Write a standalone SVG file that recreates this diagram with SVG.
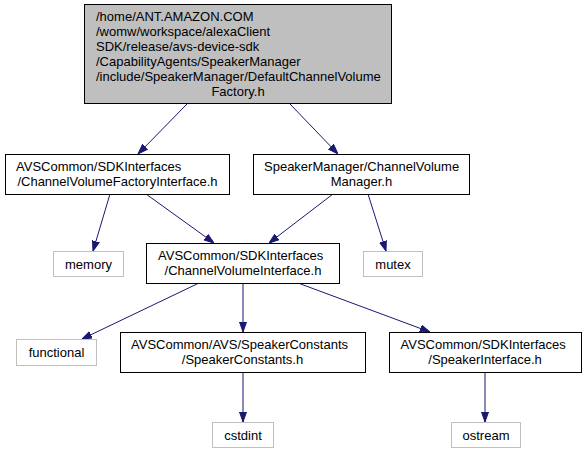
<svg xmlns="http://www.w3.org/2000/svg" width="587" height="453" viewBox="0 0 587 453">
<style>
  text { font-family: "Liberation Sans", Arial, Helvetica, sans-serif; font-size: 13px; fill: #000; }
  .c { text-anchor: middle; }
  .box { fill: #ffffff; stroke: #000000; stroke-width: 1; }
  .root { fill: #bfbfbf; stroke: #000000; stroke-width: 1; }
  .leaf { fill: #ffffff; stroke: #bfbfbf; stroke-width: 1; }
  .edge { fill: none; stroke: #191970; stroke-width: 1; marker-end: url(#ah); }
</style>
<defs>
  <marker id="ah" markerWidth="10" markerHeight="8" refX="10" refY="4" orient="auto" markerUnits="userSpaceOnUse">
    <path d="M0,0.5 L10,4 L0,7.5 z" fill="#191970" stroke="#191970" stroke-width="1"/>
  </marker>
</defs>
<rect width="587" height="453" fill="#ffffff"/>
<g id="edges">
  <line class="edge" x1="187" y1="104" x2="138" y2="154"/>
  <line class="edge" x1="290" y1="104" x2="338" y2="154"/>
  <line class="edge" x1="110" y1="194" x2="93" y2="251"/>
  <line class="edge" x1="146" y1="194" x2="214" y2="243"/>
  <line class="edge" x1="333" y1="194" x2="269" y2="243"/>
  <line class="edge" x1="368" y1="194" x2="386" y2="251"/>
  <line class="edge" x1="199" y1="283" x2="82" y2="339"/>
  <line class="edge" x1="243" y1="283" x2="243" y2="332"/>
  <line class="edge" x1="298" y1="283" x2="430" y2="332"/>
  <line class="edge" x1="243" y1="372" x2="243" y2="422"/>
  <line class="edge" x1="485" y1="372" x2="485" y2="422"/>
</g>
<g id="node_root">
  <rect class="root" x="84.5" y="4.5" width="307" height="99"/>
  <text x="96" y="21">/home/ANT.AMAZON.COM</text>
  <text x="96" y="36">/womw/workspace/alexaClient</text>
  <text x="96" y="51">SDK/release/avs-device-sdk</text>
  <text x="96" y="66">/CapabilityAgents/SpeakerManager</text>
  <text x="96" y="81">/include/SpeakerManager/DefaultChannelVolume</text>
  <text class="c" x="238" y="96">Factory.h</text>
</g>
<g id="node_cvfi">
  <rect class="box" x="5.5" y="154.5" width="224" height="40"/>
  <text x="16" y="170.5">AVSCommon/SDKInterfaces</text>
  <text class="c" x="117.5" y="185.5">/ChannelVolumeFactoryInterface.h</text>
</g>
<g id="node_cvm">
  <rect class="box" x="253.5" y="154.5" width="216" height="40"/>
  <text x="264" y="170.5">SpeakerManager/ChannelVolume</text>
  <text class="c" x="361.5" y="185.5">Manager.h</text>
</g>
<g id="node_memory">
  <rect class="leaf" x="53.5" y="251.5" width="70" height="25"/>
  <text class="c" x="88.5" y="268.5">memory</text>
</g>
<g id="node_cvi">
  <rect class="box" x="146.5" y="243.5" width="193" height="40"/>
  <text x="158" y="259.5">AVSCommon/SDKInterfaces</text>
  <text class="c" x="243" y="274.5">/ChannelVolumeInterface.h</text>
</g>
<g id="node_mutex">
  <rect class="leaf" x="363.5" y="251.5" width="59" height="25"/>
  <text class="c" x="393" y="268.5">mutex</text>
</g>
<g id="node_functional">
  <rect class="leaf" x="16.5" y="339.5" width="80" height="26"/>
  <text class="c" x="56.5" y="356.5">functional</text>
</g>
<g id="node_speakerconstants">
  <rect class="box" x="120.5" y="332.5" width="245" height="40"/>
  <text x="131" y="348.5">AVSCommon/AVS/SpeakerConstants</text>
  <text class="c" x="242.5" y="363.5">/SpeakerConstants.h</text>
</g>
<g id="node_speakerinterface">
  <rect class="box" x="389.5" y="332.5" width="192" height="40"/>
  <text x="400.5" y="348.5">AVSCommon/SDKInterfaces</text>
  <text class="c" x="485" y="363.5">/SpeakerInterface.h</text>
</g>
<g id="node_cstdint">
  <rect class="leaf" x="212.5" y="422.5" width="61" height="25"/>
  <text class="c" x="243" y="439.5">cstdint</text>
</g>
<g id="node_ostream">
  <rect class="leaf" x="451.5" y="422.5" width="69" height="25"/>
  <text class="c" x="486" y="439.5">ostream</text>
</g>
</svg>
